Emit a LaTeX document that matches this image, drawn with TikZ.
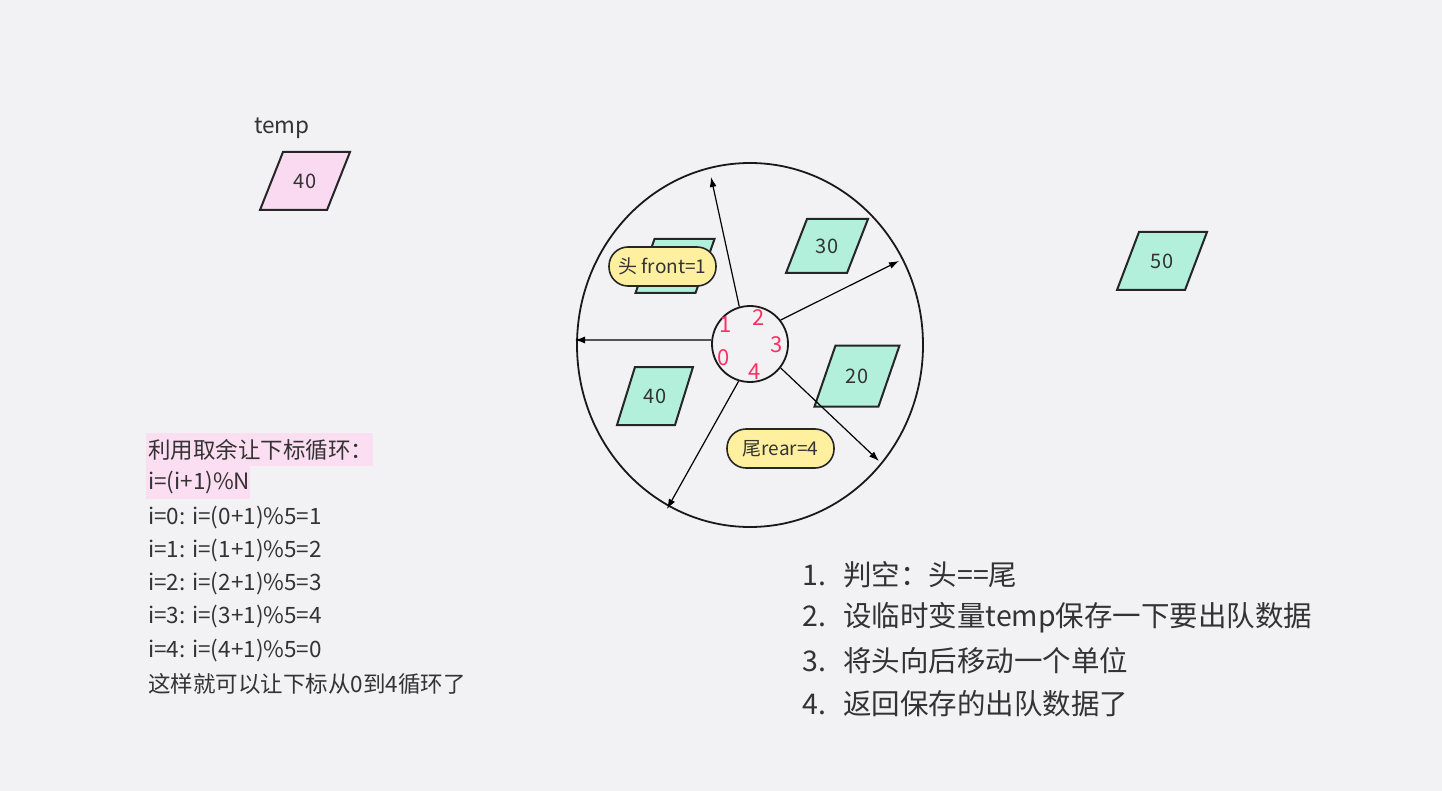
\documentclass[tikz,border=0pt]{standalone}
\usepackage{fontspec}
\setmainfont{Noto Sans CJK SC}
\usetikzlibrary{arrows.meta,shapes.geometric}
\definecolor{bg}{RGB}{242,242,245}
\definecolor{teal}{RGB}{179,240,220}
\definecolor{pinkp}{RGB}{250,218,240}
\definecolor{hl}{RGB}{252,222,243}
\definecolor{yel}{RGB}{255,240,160}
\definecolor{redd}{RGB}{250,50,100}
\definecolor{txt}{RGB}{51,51,51}
\newcommand\pgram[7]{%
  \draw[pgline, fill=#6] ({#1-#3/2+#5/2},{#2-#4/2}) -- ({#1+#3/2+#5/2},{#2-#4/2}) -- ({#1+#3/2-#5/2},{#2+#4/2}) -- ({#1-#3/2-#5/2},{#2+#4/2}) -- cycle;
  \node[numtxt] at (#1,#2) {#7};}
\tikzset{
  pgline/.style={draw=black!85, line width=2pt, line join=miter},
  numtxt/.style={text=txt, font=\fontsize{20}{22}\selectfont, inner sep=0},
  arr/.style={line width=1.2pt, -{Latex[length=10pt,width=7pt]}},
  lbl/.style={draw=black!85, line width=1.6pt, fill=yel, rounded corners=19pt, minimum width=107pt, minimum height=39pt, inner sep=0, text=txt, font=\fontsize{19}{21}\selectfont},
  idx/.style={text=redd, font=\fontsize{22}{24}\selectfont, inner sep=0},
  ltxt/.style={anchor=west, inner sep=0, text=txt, font=\fontsize{22.5}{25}\selectfont},
  btxt/.style={anchor=west, inner sep=0, text=txt, font=\fontsize{28.5}{31}\selectfont},
}
\begin{document}
\begin{tikzpicture}[x=1pt,y=-1pt]
\fill[bg] (0,0) rectangle (1442,791);
\useasboundingbox (0,0) rectangle (1442,791);
% temp
\node[anchor=center, inner sep=0, text=txt, font=\fontsize{22.5}{25}\selectfont] (temptxt) at (282,128) {temp};
\pgram{305}{181}{67}{58}{23}{pinkp}{40}
\pgram{1162}{261}{68}{58}{22}{teal}{50}
% ring
\node[draw=black!90, line width=1.8pt, ellipse, minimum width=346pt, minimum height=364pt, inner sep=0] (big) at (750,345) {};
\pgram{675}{266}{60}{54}{19}{teal}{}
\pgram{827}{246}{61}{54}{21}{teal}{30}
\pgram{857}{376}{64}{61}{21}{teal}{20}
\pgram{655}{396}{58}{58}{18}{teal}{40}
\node[draw=black!90, line width=1.8pt, circle, minimum size=76pt, inner sep=0] (sc) at (750,344) {};
\coordinate (e1) at (711,177);
\coordinate (e2) at (899,261);
\coordinate (e3) at (575,340);
\coordinate (e4) at (879,461);
\coordinate (e5) at (667,509);
\draw[arr] (sc.106) -- (e1);
\draw[arr] (sc.38) -- (e2);
\draw[arr] (sc.174) -- (e3);
\draw[arr] (sc.-38) -- (e4);
\draw[arr] (sc.-107) -- (e5);
\node[lbl] (front) at (662.5,266.5) {头 front=1};
\node[lbl] (rear) at (780.5,448.5) {尾rear=4};
\node[idx] (i1) at (726,325) {1};
\node[idx] (i2) at (759,318) {2};
\node[idx] (i3) at (777,345) {3};
\node[idx] (i0) at (724,358) {0};
\node[idx] (i4) at (755,372) {4};
% left text block
\fill[hl] (146,433) rectangle (373,466);
\fill[hl] (146,466) rectangle (250,499);
\node[ltxt] (l1) at (148,450) {利用取余让下标循环：};
\node[ltxt] (l2) at (148,483) {i=(i+1)\%N};
\node[ltxt] (l3) at (148,517) {i=0: i=(0+1)\%5=1};
\node[ltxt] (l4) at (148,550) {i=1: i=(1+1)\%5=2};
\node[ltxt] (l5) at (148,583) {i=2: i=(2+1)\%5=3};
\node[ltxt] (l6) at (148,616) {i=3: i=(3+1)\%5=4};
\node[ltxt] (l7) at (148,650) {i=4: i=(4+1)\%5=0};
\node[ltxt] (l8) at (148,684) {这样就可以让下标从0到4循环了};
% right list
\node[btxt] (b1) at (802,575) {\makebox[41pt][l]{1.}判空：头==尾};
\node[btxt] (b2) at (802,618) {\makebox[41pt][l]{2.}设临时变量temp保存一下要出队数据};
\node[btxt] (b3) at (802,661) {\makebox[41pt][l]{3.}将头向后移动一个单位};
\node[btxt] (b4) at (802,704) {\makebox[41pt][l]{4.}返回保存的出队数据了};
\end{tikzpicture}
\end{document}
